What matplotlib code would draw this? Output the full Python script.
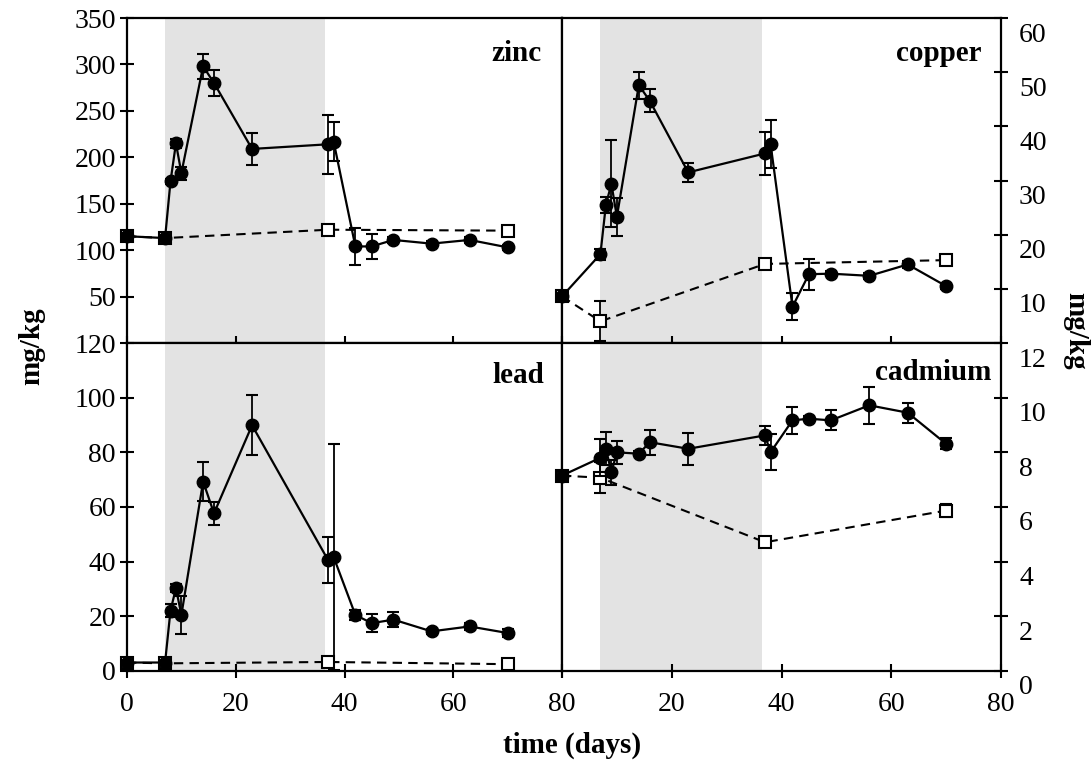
import matplotlib
matplotlib.use("Agg")
import matplotlib.pyplot as plt
import matplotlib.transforms as mtransforms

plt.rcParams['font.family'] = ['Liberation Serif', 'DejaVu Serif']

# ---- data ----
days = [0, 7, 8, 9, 10, 14, 16, 23, 37, 38, 42, 45, 49, 56, 63, 70]
control_days = [0, 7, 37, 70]

zinc = [115, 113, 174, 215, 183, 298, 280, 209, 214, 217, 104, 104, 111, 107, 111, 103]
zinc_err = [3, 3, 3, 5, 7, 13.5, 14, 17, 32, 21, 19.5, 13, 3, 3, 3, 3]
zinc_ctrl = [115, 113, 122, 121]
zinc_ctrl_err = [3, 3, 5, 3]

copper = [8.6, 16.4, 25.5, 29.4, 23.3, 47.6, 44.7, 31.5, 35.0, 36.8, 6.7, 12.7, 12.8, 12.4, 14.5, 10.5]
copper_err = [0.5, 1, 1.5, 8, 3.5, 2.5, 2.1, 1.8, 4, 4.4, 2.5, 2.9, 0.5, 0.5, 0.6, 0.5]
copper_ctrl = [8.6, 4.0, 14.6, 15.3]
copper_ctrl_err = [0.5, 3.7, 1, 0.8]

lead = [3.1, 3.1, 22.1, 30.3, 20.5, 69.3, 57.7, 89.9, 40.5, 41.7, 20.5, 17.5, 18.8, 14.5, 16.3, 13.9]
lead_err = [0.8, 0.8, 2.5, 1.5, 7, 7, 4.3, 11, 8.4, 41.5, 1.8, 3.3, 2.7, 1, 1.3, 1.3]
lead_ctrl = [3.1, 2.8, 3.3, 2.5]
lead_ctrl_err = [0.3, 0.3, 0.5, 0.3]

cadmium = [7.15, 7.8, 8.13, 7.27, 8.0, 7.95, 8.37, 8.13, 8.62, 8.0, 9.17, 9.23, 9.17, 9.72, 9.45, 8.31]
cadmium_err = [0.15, 0.67, 0.6, 0.45, 0.43, 0.1, 0.45, 0.58, 0.35, 0.66, 0.49, 0.1, 0.37, 0.67, 0.37, 0.2]
cadmium_ctrl = [7.15, 7.07, 4.71, 5.87]
cadmium_ctrl_err = [0.15, 0.57, 0.1, 0.25]

shade_start, shade_end = 6.9, 36.5

zinc_ticks = [50, 100, 150, 200, 250, 300, 350]
copper_ticks = [10, 20, 30, 40, 50, 60]
lead_ticks = [0, 20, 40, 60, 80, 100, 120]
cadmium_ticks = [0, 2, 4, 6, 8, 10, 12]
x_ticks = [0, 20, 40, 60, 80]
x_labels_left = ['0', '20', '40', '60', '80']
x_labels_right = ['', '20', '40', '60', '80']

# ---- figure ----
W, H = 1091, 770
fig = plt.figure(figsize=(W / 100, H / 100), dpi=100)

x_left, x_mid, x_right = 127, 562, 1001
y_top, y_mid, y_bot = 18, 343, 671


def box(x0, x1, y0, y1):
    return [x0 / W, 1 - y1 / H, (x1 - x0) / W, (y1 - y0) / H]


ax_zn = fig.add_axes(box(x_left, x_mid, y_top, y_mid))
ax_cu = fig.add_axes(box(x_mid, x_right, y_top, y_mid))
ax_pb = fig.add_axes(box(x_left, x_mid, y_mid, y_bot))
ax_cd = fig.add_axes(box(x_mid, x_right, y_mid, y_bot))

panels = [
    (ax_zn, zinc, zinc_err, zinc_ctrl, zinc_ctrl_err, (0, 350), zinc_ticks, 'zinc', 'left', False),
    (ax_cu, copper, copper_err, copper_ctrl, copper_ctrl_err, (0, 60), copper_ticks, 'copper', 'right', False),
    (ax_pb, lead, lead_err, lead_ctrl, lead_ctrl_err, (0, 120), lead_ticks, 'lead', 'left', True),
    (ax_cd, cadmium, cadmium_err, cadmium_ctrl, cadmium_ctrl_err, (0, 12), cadmium_ticks, 'cadmium', 'right', True),
]

label_pos = {'zinc': (0.952, 0.89), 'copper': (0.955, 0.89),
             'lead': (0.96, 0.90), 'cadmium': (0.978, 0.91)}

for ax, vals, err, ctrl, ctrl_err, ylim, yt, name, side, bottom in panels:
    ax.set_xlim(0, 80)
    ax.set_ylim(*ylim)
    ax.axvspan(shade_start, shade_end, facecolor='#e3e3e3', edgecolor='none', zorder=0)

    ax.errorbar(control_days, ctrl, yerr=ctrl_err, fmt='s', linestyle='--', dashes=(4.5, 3),
                color='k', mfc='white', mec='k', mew=1.5, ms=8, lw=1.5,
                capsize=4, capthick=1.5, elinewidth=1.3, zorder=3, clip_on=False)
    ax.errorbar(days, vals, yerr=err, fmt='o', linestyle='-', color='k', ms=9, lw=1.6,
                capsize=4, capthick=1.5, elinewidth=1.3, zorder=4, clip_on=False)

    for sp in ax.spines.values():
        sp.set_linewidth(1.6)

    ax.set_xticks(x_ticks)
    ax.tick_params(axis='x', direction='inout', length=10, width=1.5, top=False,
                   labelsize=20, pad=10)
    if bottom:
        ax.set_xticklabels(x_labels_left if side == 'left' else x_labels_right)
    else:
        ax.set_xticklabels([])

    ax.set_yticks(yt)
    if side == 'left':
        ax.tick_params(axis='y', direction='inout', length=10, width=1.5,
                       left=True, right=False, labelleft=True, labelright=False,
                       labelsize=20, pad=3)
    else:
        ax.tick_params(axis='y', direction='inout', length=10, width=1.5,
                       left=False, right=True, labelleft=False, labelright=True,
                       labelsize=20, pad=8)
        offset = mtransforms.ScaledTranslation(0, -0.14, fig.dpi_scale_trans)
        for lab in ax.get_yticklabels():
            lab.set_transform(lab.get_transform() + offset)

    lx, ly = label_pos[name]
    ax.text(lx, ly, name, transform=ax.transAxes, ha='right', va='center',
            fontsize=21, fontweight='bold')

fig.text(32 / W, 1 - 346 / H, 'mg/kg', rotation=90, ha='center', va='center',
         fontsize=21, fontweight='bold')
fig.text(1076 / W, 1 - 331 / H, 'mg/kg', rotation=270, ha='center', va='center',
         fontsize=21, fontweight='bold')
fig.text(572 / W, 1 - 745 / H, 'time (days)', ha='center', va='center',
         fontsize=21, fontweight='bold')

fig.savefig('out.png', dpi=100)
